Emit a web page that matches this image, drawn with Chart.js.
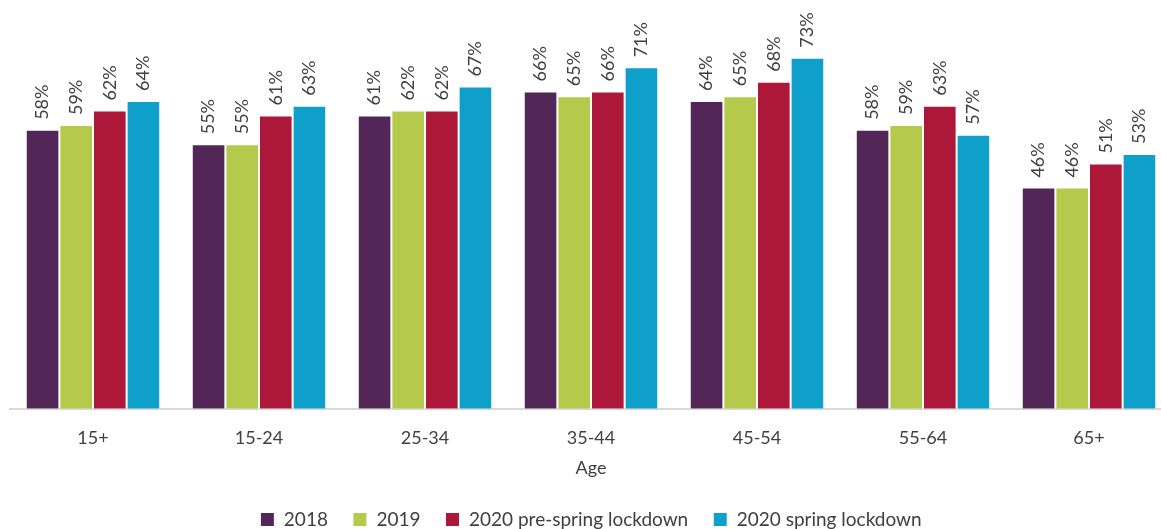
<!DOCTYPE html>
<html>
<head>
<meta charset="utf-8">
<script src="https://cdn.jsdelivr.net/npm/chart.js@4/dist/chart.umd.min.js"></script>
<style>
  html,body{margin:0;padding:0;background:#fff;overflow:hidden}
  #wrap{width:1182px;height:539px;position:relative}
</style>
</head>
<body>
<div id="wrap"><canvas id="chart"></canvas></div>
<script>
// ===== DATA =====
const ageGroups = ['15+','15-24','25-34','35-44','45-54','55-64','65+'];
const seriesNames = ['2018','2019','2020 pre-spring lockdown','2020 spring lockdown'];
const vals2018 = [58,55,61,66,64,58,46];
const vals2019 = [59,55,62,65,65,59,46];
const valsPre2020 = [62,61,62,66,68,63,51];
const valsSpring2020 = [64,63,67,71,73,57,53];
const seriesColors = ['#522757','#B5CA4A','#AD1739','#0F9FCB'];

const TXT = '#404040';
const FONT = 'Lato, "Open Sans", sans-serif';

// étiquettes verticales au-dessus des barres
const barLabels = {
  id: 'barLabels',
  afterDatasetsDraw(chart) {
    const ctx = chart.ctx;
    ctx.save();
    ctx.font = '18px ' + FONT;
    ctx.fillStyle = TXT;
    ctx.textAlign = 'left';
    ctx.textBaseline = 'middle';
    chart.data.datasets.forEach((ds, i) => {
      chart.getDatasetMeta(i).data.forEach((bar, j) => {
        ctx.save();
        ctx.translate(bar.x, bar.y - 10);
        ctx.rotate(-Math.PI / 2);
        ctx.fillText(ds.data[j] + '%', 0, 0);
        ctx.restore();
      });
    });
    ctx.restore();
  }
};

const allVals = [vals2018, vals2019, valsPre2020, valsSpring2020];

new Chart(document.getElementById('chart'), {
  type: 'bar',
  data: {
    labels: ageGroups,
    datasets: seriesNames.map((name, i) => ({
      label: name,
      data: allVals[i],
      backgroundColor: seriesColors[i],
      borderColor: '#ffffff',
      borderWidth: 1,
      categoryPercentage: 0.81,
      barPercentage: 1
    }))
  },
  options: {
    responsive: true, maintainAspectRatio: false, animation: false,
    layout: { padding: { left: 10, right: 10, top: 0, bottom: 0 } },
    plugins: {
      legend: {
        position: 'bottom',
        labels: { color: TXT, font: { family: FONT, size: 19 }, boxWidth: 14, boxHeight: 14, padding: 25 }
      },
      tooltip: { enabled: false }
    },
    scales: {
      x: {
        grid: { display: false, drawTicks: false },
        border: { color: '#D9D9D9', width: 2 },
        ticks: { color: TXT, font: { family: FONT, size: 18 }, padding: 19 },
        title: { display: true, text: 'Age', color: TXT, font: { family: FONT, size: 18 }, padding: { top: -11, bottom: 6 } }
      },
      y: { display: false, min: 0, max: 85 }
    }
  },
  plugins: [barLabels]
});
</script>
</body>
</html>
